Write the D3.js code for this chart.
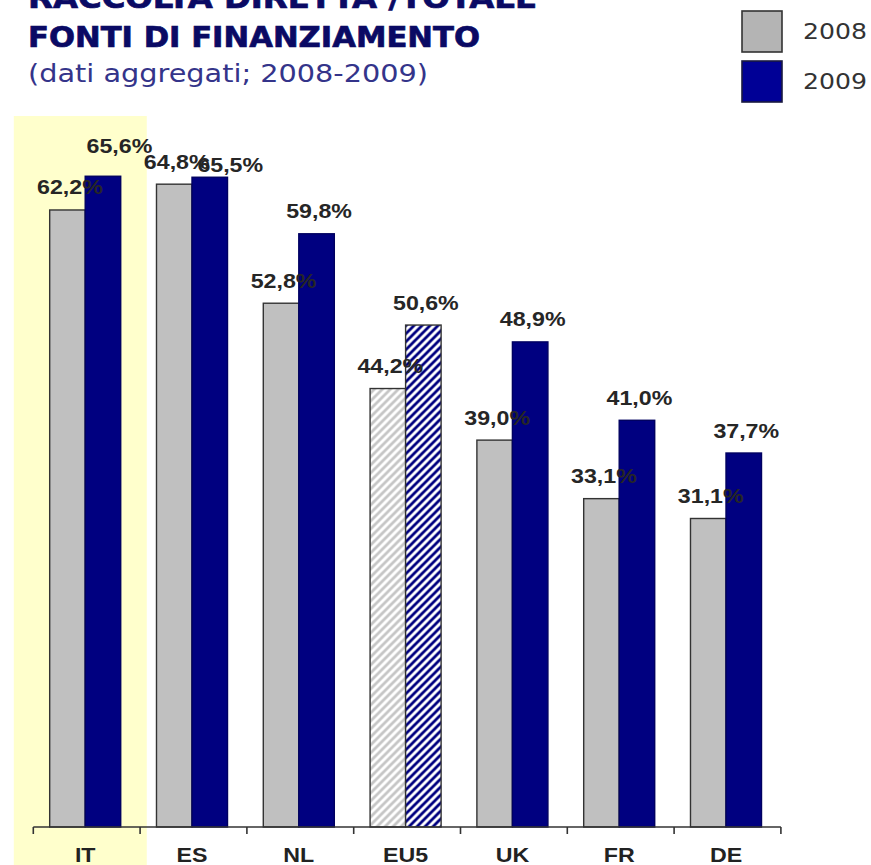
<!DOCTYPE html>
<html>
<head>
<meta charset="utf-8">
<script src="https://cdn.jsdelivr.net/npm/d3@7"></script>
<style>
  html, body { margin: 0; padding: 0; background: #ffffff; }
  svg { display: block; }
</style>
</head>
<body>
<svg id="chart" width="871" height="865"></svg>
<script>
// Raccolta diretta / totale fonti di finanziamento, 2008 vs 2009
const categories = ["IT", "ES", "NL", "EU5", "UK", "FR", "DE"];
const seriesNames = ["2008", "2009"];
const values2008 = [62.2, 64.8, 52.8, 44.2, 39.0, 33.1, 31.1];
const values2009 = [65.6, 65.5, 59.8, 50.6, 48.9, 41.0, 37.7];
const titleLines = ["RACCOLTA DIRETTA /TOTALE", "FONTI DI FINANZIAMENTO"];
const subtitle = "(dati aggregati; 2008-2009)";
const highlighted = "IT";   // country shaded in the background
const aggregate = "EU5";    // aggregate drawn with hatched bars

const svg = d3.select("#chart");
const W = 871, H = 865;
const axisY = 827;
const stretch = 1.16;

const rows = categories.map((c, i) => ({
  cat: c,
  vals: [
    { key: "2008", v: values2008[i] },
    { key: "2009", v: values2009[i] }
  ]
}));

// scales
const x = d3.scaleBand()
  .domain(categories)
  .range([33.3, 780.9])
  .paddingInner(0.335)
  .paddingOuter(0.1675);
const x1 = d3.scaleBand()
  .domain(seriesNames)
  .range([-1.5, x.bandwidth() - 1.5]);
const y = d3.scaleLinear().domain([0, 70]).range([axisY, axisY - 694.4]);

// fills
const defs = svg.append("defs");
function hatch(id, color) {
  const p = defs.append("pattern")
    .attr("id", id)
    .attr("patternUnits", "userSpaceOnUse")
    .attr("width", 8).attr("height", 8);
  p.append("rect").attr("width", 8).attr("height", 8).attr("fill", "#ffffff");
  p.append("path")
    .attr("d", "M-2,2 L2,-2 M0,8 L8,0 M6,10 L10,6")
    .attr("stroke", color)
    .attr("stroke-width", 2.8);
}
hatch("hatch2008", "#c6c6c6");
hatch("hatch2009", "#000080");

const solid = { "2008": "#c0c0c0", "2009": "#000080" };
const edge = { "2008": "#333333", "2009": "#000060" };

// highlight band behind the first country
svg.append("rect")
  .attr("x", x(highlighted) - 0.35 * x.step())
  .attr("y", 116)
  .attr("width", 1.245 * x.step())
  .attr("height", H - 116)
  .attr("fill", "#ffffcc");

// bars
const groups = svg.append("g").selectAll("g")
  .data(rows)
  .join("g")
  .attr("transform", d => `translate(${x(d.cat)},0)`);

groups.selectAll("rect")
  .data(d => d.vals.map(v => ({ ...v, cat: d.cat })))
  .join("rect")
  .attr("x", d => x1(d.key))
  .attr("y", d => y(d.v))
  .attr("width", x1.bandwidth())
  .attr("height", d => axisY - y(d.v))
  .attr("fill", d => d.cat === aggregate ? `url(#hatch${d.key})` : solid[d.key])
  .attr("stroke", d => d.cat === aggregate ? "#333333" : edge[d.key])
  .attr("stroke-width", 1.4);

// axis line and tick marks at the category boundaries
const axisG = svg.append("g");
const r = x.range();
axisG.append("line")
  .attr("x1", r[0]).attr("x2", r[1])
  .attr("y1", axisY).attr("y2", axisY)
  .attr("stroke", "#333").attr("stroke-width", 1.6);
axisG.selectAll("line.tick")
  .data(d3.range(categories.length + 1))
  .join("line")
  .attr("class", "tick")
  .attr("x1", i => r[0] + i * x.step())
  .attr("x2", i => r[0] + i * x.step())
  .attr("y1", axisY).attr("y2", axisY + 7)
  .attr("stroke", "#333").attr("stroke-width", 1.6);

// category labels
svg.append("g").selectAll("text")
  .data(categories)
  .join("text")
  .attr("transform", c => `translate(${x(c) + x.bandwidth() / 2 - 1.5},862) scale(${stretch},1)`)
  .attr("text-anchor", "middle")
  .attr("font-family", "'Liberation Sans', Arial, sans-serif")
  .attr("font-weight", "bold")
  .attr("font-size", 20)
  .attr("fill", "#222")
  .text(c => c);

// value labels (a few are nudged to keep them apart)
const nudge = { "IT-2009": [14, -7.7], "ES-2009": [18, 10.3] };
const fmt = v => d3.format(".1f")(v).replace(".", ",") + "%";
const labelData = rows.flatMap(d => d.vals.map(v => ({ ...v, cat: d.cat })));
svg.append("g").selectAll("text")
  .data(labelData)
  .join("text")
  .attr("transform", d => {
    const n = nudge[`${d.cat}-${d.key}`] || [0, 0];
    const cx = x(d.cat) + x1(d.key) + x1.bandwidth() / 2 + 2.5 + n[0];
    const cy = y(d.v) - 15.5 + n[1];
    return `translate(${cx},${cy}) scale(${stretch},1)`;
  })
  .attr("text-anchor", "middle")
  .attr("font-family", "'Liberation Sans', Arial, sans-serif")
  .attr("font-weight", "bold")
  .attr("font-size", 20)
  .attr("fill", "#262626")
  .text(d => fmt(d.v));

// title
const titleG = svg.append("g")
  .attr("font-family", "'DejaVu Sans', Verdana, sans-serif");
titleG.selectAll("text.title")
  .data(titleLines)
  .join("text")
  .attr("class", "title")
  .attr("x", 28)
  .attr("y", (d, i) => i === 0 ? 8 : 47)
  .attr("font-weight", "bold").attr("font-size", 29)
  .attr("fill", "#0a0a64")
  .attr("stroke", "#0a0a64").attr("stroke-width", 0.7)
  .attr("textLength", (d, i) => i === 0 ? 509 : 452)
  .attr("lengthAdjust", "spacingAndGlyphs")
  .text(d => d);
titleG.append("text")
  .attr("x", 28).attr("y", 82)
  .attr("font-size", 24)
  .attr("fill", "#34348a")
  .attr("textLength", 400).attr("lengthAdjust", "spacingAndGlyphs")
  .text(subtitle);

// legend
const legend = svg.append("g");
const legendItems = [
  { key: "2008", fill: "#b4b4b4", stroke: "#333", ry: 11, ty: 39 },
  { key: "2009", fill: "#000096", stroke: "#1a1a40", ry: 61, ty: 89 }
];
legend.selectAll("rect")
  .data(legendItems)
  .join("rect")
  .attr("x", 742).attr("y", d => d.ry)
  .attr("width", 40).attr("height", 41)
  .attr("fill", d => d.fill)
  .attr("stroke", d => d.stroke)
  .attr("stroke-width", 1.6);
legend.selectAll("text")
  .data(legendItems)
  .join("text")
  .attr("x", 803).attr("y", d => d.ty)
  .attr("font-family", "'DejaVu Sans', Verdana, sans-serif")
  .attr("font-size", 22)
  .attr("fill", "#333")
  .attr("textLength", 64).attr("lengthAdjust", "spacingAndGlyphs")
  .text(d => d.key);
</script>
</body>
</html>
